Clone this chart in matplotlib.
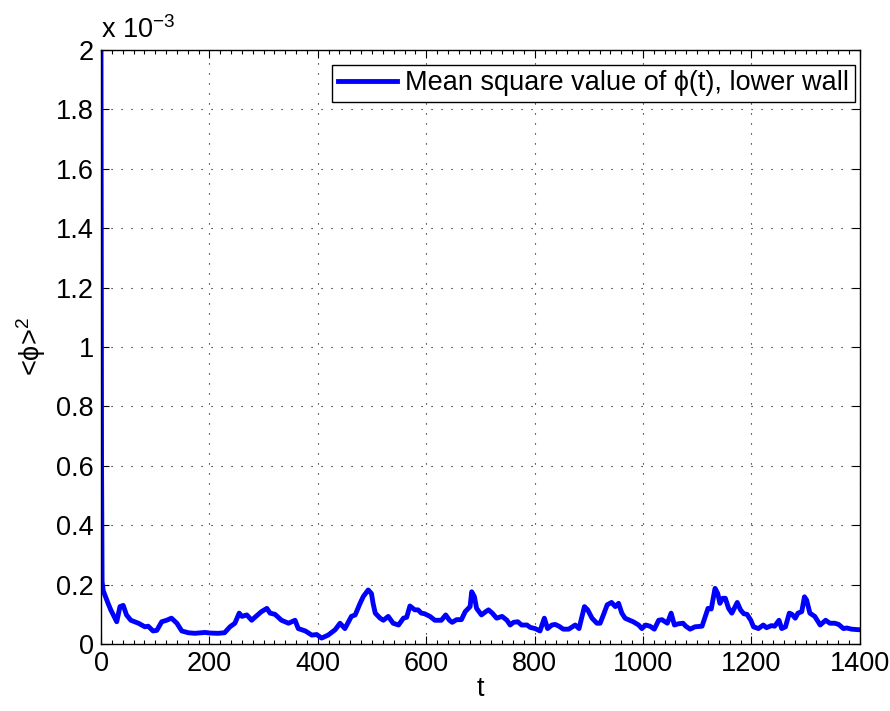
import numpy as np
import matplotlib
matplotlib.use("Agg")
import matplotlib.pyplot as plt
from matplotlib.ticker import MultipleLocator, FuncFormatter

plt.rcParams['font.family'] = ['Liberation Sans', 'DejaVu Sans']
plt.rcParams['mathtext.fontset'] = 'custom'
plt.rcParams['mathtext.rm'] = 'Liberation Sans'
plt.rcParams['mathtext.it'] = 'Liberation Sans'

# temps t et <phi>^2 (en unites de 1e-3)
t = [0, 1, 2, 4, 13, 18, 29, 35, 41, 47, 55, 69, 81, 87, 96, 103, 112, 121, 130,
     140, 149, 161, 173, 192, 201, 216, 228, 238, 247, 255, 260, 269, 278, 284,
     296, 306, 312, 321, 333, 346, 358, 364, 377, 389, 398, 407, 419, 432, 441,
     450, 462, 469, 478, 484, 493, 499, 502, 506, 515, 521, 530, 539, 549, 558,
     564, 570, 579, 585, 591, 597, 607, 616, 628, 636, 643, 648, 656, 665, 672,
     681, 684, 689, 693, 702, 710, 715, 722, 730, 740, 749, 755, 761, 769, 776,
     786, 792, 801, 810, 818, 824, 832, 838, 845, 853, 863, 875, 882, 892, 898,
     906, 915, 921, 927, 934, 942, 949, 955, 961, 967, 973, 982, 992, 998, 1005,
     1013, 1021, 1029, 1035, 1045, 1052, 1058, 1065, 1074, 1079, 1087, 1096,
     1109, 1114, 1120, 1126, 1133, 1138, 1142, 1147, 1152, 1158, 1164, 1170,
     1174, 1180, 1186, 1192, 1199, 1204, 1213, 1222, 1228, 1237, 1243, 1251,
     1256, 1263, 1270, 1275, 1281, 1286, 1293, 1298, 1302, 1308, 1317, 1327,
     1337, 1345, 1354, 1361, 1370, 1376, 1385, 1400]
phi2 = [2.0, 0.6, 0.21, 0.18, 0.137, 0.115, 0.075, 0.126, 0.13, 0.098, 0.08,
        0.07, 0.058, 0.06, 0.044, 0.046, 0.075, 0.08, 0.087, 0.07, 0.044, 0.038,
        0.036, 0.039, 0.037, 0.036, 0.038, 0.058, 0.07, 0.104, 0.093, 0.098,
        0.08, 0.09, 0.109, 0.12, 0.104, 0.1, 0.08, 0.07, 0.08, 0.052, 0.044,
        0.03, 0.032, 0.02, 0.03, 0.048, 0.07, 0.052, 0.093, 0.098, 0.137, 0.16,
        0.182, 0.17, 0.137, 0.104, 0.087, 0.08, 0.093, 0.07, 0.064, 0.087,
        0.09, 0.128, 0.115, 0.115, 0.104, 0.102, 0.093, 0.08, 0.08, 0.098,
        0.08, 0.073, 0.082, 0.082, 0.109, 0.126, 0.176, 0.159, 0.12, 0.098,
        0.109, 0.115, 0.104, 0.087, 0.093, 0.08, 0.064, 0.073, 0.075, 0.064,
        0.064, 0.056, 0.052, 0.044, 0.087, 0.052, 0.064, 0.066, 0.06, 0.05,
        0.05, 0.064, 0.052, 0.126, 0.115, 0.087, 0.07, 0.07, 0.098, 0.132,
        0.14, 0.126, 0.137, 0.104, 0.087, 0.082, 0.075, 0.064, 0.052, 0.064,
        0.06, 0.05, 0.08, 0.082, 0.07, 0.104, 0.064, 0.068, 0.07, 0.06, 0.05,
        0.058, 0.06, 0.087, 0.12, 0.118, 0.1875, 0.17, 0.137, 0.154, 0.154,
        0.12, 0.104, 0.126, 0.14, 0.115, 0.102, 0.1, 0.08, 0.058, 0.052,
        0.064, 0.055, 0.062, 0.06, 0.08, 0.052, 0.058, 0.104, 0.1, 0.087,
        0.104, 0.109, 0.159, 0.148, 0.104, 0.093, 0.064, 0.08, 0.07, 0.07,
        0.066, 0.052, 0.054, 0.05, 0.048]

t = np.array(t)
phi2 = np.array(phi2) * 1e-3

fs = 19.5

fig = plt.figure(figsize=(8.9, 7.11), dpi=100)
ax = fig.add_axes([0.1135, 0.0942, 0.8525, 0.8355])

ax.plot(t, phi2, color='#0000ff', lw=3.5,
        label='Mean square value of ϕ(t), lower wall')

ax.set_xlim(0, 1400)
ax.set_ylim(0, 2e-3)
ax.xaxis.set_major_locator(MultipleLocator(200))
ax.xaxis.set_minor_locator(MultipleLocator(20))
ax.yaxis.set_major_locator(MultipleLocator(0.2e-3))
ax.yaxis.set_major_formatter(FuncFormatter(lambda v, p: f'{v * 1e3:g}'))

ax.tick_params(which='both', direction='in', top=True, right=True,
               labelsize=fs, width=0.8)
ax.tick_params(which='major', length=6, pad=5)
ax.tick_params(which='minor', length=3)
for s in ax.spines.values():
    s.set_linewidth(1.0)

ax.grid(True, which='major', color='black', linestyle=(0, (1, 8)), lw=0.8)

ax.set_xlabel('t', fontsize=fs, labelpad=-1)
ax.set_ylabel('<ϕ>$^2$', fontsize=fs, labelpad=6)
ax.text(0, 1.01, 'x 10$^{-3}$', transform=ax.transAxes, fontsize=fs,
        ha='left', va='bottom')

leg = ax.legend(loc='upper right', bbox_to_anchor=(0.9934, 0.9747),
                fontsize=fs, fancybox=False, framealpha=1,
                edgecolor='black', borderpad=0.2, handlelength=2.2,
                handletextpad=0.3, borderaxespad=0)
leg.get_frame().set_linewidth(1.0)

fig.savefig('out.png', dpi=100)
